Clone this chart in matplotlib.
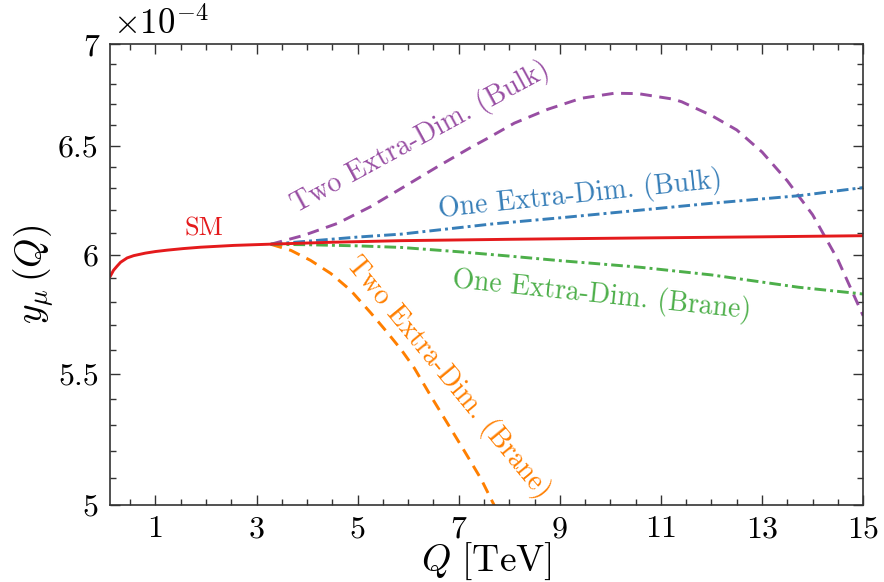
#!/usr/bin/env python3
"""
Running muon Yukawa coupling y_mu(Q): SM vs extra-dimension scenarios
"""

import matplotlib
matplotlib.use('Agg')
import matplotlib.pyplot as plt
from matplotlib.ticker import FixedLocator, NullFormatter

plt.rcParams['font.family'] = 'cmr10'
plt.rcParams['mathtext.fontset'] = 'cm'
plt.rcParams['axes.formatter.use_mathtext'] = True

# values, y in units of 1e-4
sm_q = [0.1, 0.17, 0.24, 0.31, 0.44, 0.57, 0.8, 1.0, 1.23, 1.55, 1.89, 2.55, 3.21, 4.5, 5.86, 8.0, 10.6, 13.0, 15.0]
sm_y = [5.906, 5.934, 5.952, 5.969, 5.988, 5.998, 6.009, 6.016, 6.022, 6.029, 6.035, 6.043, 6.048,
        6.057, 6.064, 6.070, 6.076, 6.081, 6.086]

bulk1_q = [3.28, 5.0, 5.86, 7.64, 9.0, 10.6, 12.0, 13.75, 15.0]
bulk1_y = [6.048, 6.080, 6.093, 6.138, 6.166, 6.201, 6.232, 6.267, 6.304]

brane1_q = [3.28, 4.0, 5.0, 5.86, 7.0, 8.0, 9.0, 10.0, 10.6, 12.0, 13.72, 15.0]
brane1_y = [6.048, 6.046, 6.041, 6.034, 6.015, 5.996, 5.976, 5.958, 5.947, 5.914, 5.861, 5.832]

bulk2_q = [3.28, 3.94, 4.6, 5.26, 5.92, 6.58, 7.24, 7.54, 8.1, 8.76, 9.42, 10.08, 10.55,
           11.24, 11.41, 12.0, 12.5, 13.0, 13.5, 14.0, 14.5, 15.0]
bulk2_y = [6.048, 6.088, 6.141, 6.217, 6.308, 6.401, 6.492, 6.531, 6.608, 6.675, 6.729, 6.754, 6.752,
           6.725, 6.712, 6.645, 6.575, 6.470, 6.335, 6.180, 5.980, 5.740]

brane2_q = [3.28, 3.68, 4.07, 4.47, 4.86, 5.26, 5.56, 5.86, 6.12, 6.45, 6.78, 7.11, 7.44, 7.64, 7.75]
brane2_y = [6.048, 6.021, 5.977, 5.920, 5.848, 5.752, 5.677, 5.600, 5.525, 5.412, 5.305, 5.200, 5.095, 5.020, 4.980]

y_major = [5, 5.5, 6, 6.5, 7]
y_major_labels = ['5', '5.5', '6', '6.5', '7']
y_minor = [5 + 0.1 * i for i in range(21)]
x_major = [1, 3, 5, 7, 9, 11, 13, 15]
x_minor = [0.5 * i for i in range(1, 31)]

RED = '#e41a1c'
BLUE = '#377eb8'
GREEN = '#4daf4a'
PURPLE = '#984ea3'
ORANGE = '#ff7f00'

fig = plt.figure(figsize=(8.84, 5.82), dpi=100)
ax = fig.add_axes([0.1244, 0.133, 0.852, 0.7909])

dash = (0, (4.0, 2.6))
dashdot = (0, (4.0, 1.4, 1.0, 1.4))
LW = 2.1

ax.plot(bulk2_q, bulk2_y, color=PURPLE, lw=LW, linestyle=dash)
ax.plot(brane2_q, brane2_y, color=ORANGE, lw=LW, linestyle=dash)
ax.plot(bulk1_q, bulk1_y, color=BLUE, lw=LW, linestyle=dashdot)
ax.plot(brane1_q, brane1_y, color=GREEN, lw=LW, linestyle=dashdot)
ax.plot(sm_q, sm_y, color=RED, lw=LW, solid_capstyle='round', solid_joinstyle='round')

ax.set_yscale('log')
ax.set_xlim(0.1, 15)
ax.set_ylim(5, 7)
ax.yaxis.set_major_locator(FixedLocator(y_major))
ax.set_yticklabels(y_major_labels)
ax.yaxis.set_minor_locator(FixedLocator(y_minor))
ax.yaxis.set_minor_formatter(NullFormatter())
ax.xaxis.set_major_locator(FixedLocator(x_major))
ax.xaxis.set_minor_locator(FixedLocator(x_minor))
ax.set_xticklabels([str(v) for v in x_major])

ax.tick_params(which='both', direction='in', top=True, right=True,
               labelsize=23, color='#333333', width=1.0)
ax.tick_params(which='major', length=7, pad=8)
ax.tick_params(which='minor', length=4)
for sp in ax.spines.values():
    sp.set_linewidth(1.2)
    sp.set_color('#333333')

ax.set_xlabel(r'$Q\ [\mathrm{TeV}]$', fontsize=27, labelpad=-2)
ax.set_ylabel(r'$y_\mu\,(Q)$', fontsize=27, labelpad=2)
ax.text(0.004, 1.008, r'$\times 10^{-4}$', transform=ax.transAxes,
        fontsize=25, ha='left', va='bottom')

ax.text(1.95, 6.117, 'SM', color=RED, fontsize=19, ha='center', va='center')
ax.text(9.4, 6.27, 'One Extra-Dim. (Bulk)', color=BLUE, fontsize=20,
        rotation=6, ha='center', va='center', rotation_mode='anchor')
ax.text(9.82, 5.828, 'One Extra-Dim. (Brane)', color=GREEN, fontsize=20,
        rotation=-6, ha='center', va='center', rotation_mode='anchor')
ax.text(6.25, 6.541, 'Two Extra-Dim. (Bulk)', color=PURPLE, fontsize=20,
        rotation=28.5, ha='center', va='center', rotation_mode='anchor')
ax.text(6.79, 5.486, 'Two Extra-Dim. (Brane)', color=ORANGE, fontsize=20,
        rotation=-50.5, ha='center', va='center', rotation_mode='anchor')

plt.savefig('out.png', dpi=100)
